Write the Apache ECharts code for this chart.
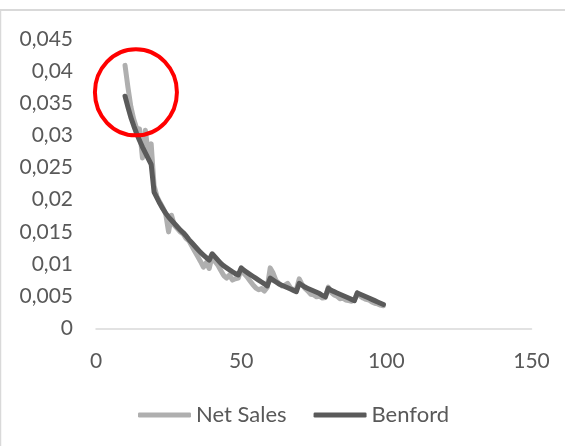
<!DOCTYPE html>
<html>
<head>
<meta charset="utf-8">
<script src="https://cdn.jsdelivr.net/npm/echarts@6/dist/echarts.min.js"></script>
<style>
html,body{margin:0;padding:0;background:#fff;}
#chart{width:565px;height:446px;}
</style>
</head>
<body>
<div id="chart"></div>
<script>
// First-two-digit categories (x values)
const digits = [10,11,12,13,14,15,16,17,18,19,
  20,21,22,23,24,25,26,27,28,29,
  30,31,32,33,34,35,36,37,38,39,
  40,41,42,43,44,45,46,47,48,49,
  50,51,52,53,54,55,56,57,58,59,
  60,61,62,63,64,65,66,67,68,69,
  70,71,72,73,74,75,76,77,78,79,
  80,81,82,83,84,85,86,87,88,89,
  90,91,92,93,94,95,96,97,98,99];

const netSales = [0.0409,0.0375,0.0345,0.0325,0.0311,0.0310,0.0265,0.0308,0.0272,0.0287,
  0.0222,0.0205,0.0196,0.0188,0.0178,0.0150,0.0176,0.0160,0.0155,0.0150,
  0.0147,0.0140,0.0136,0.0128,0.0120,0.0112,0.0104,0.0095,0.0102,0.0093,
  0.0112,0.0104,0.0098,0.0090,0.0082,0.0078,0.0083,0.0075,0.0077,0.0078,
  0.0092,0.0085,0.0080,0.0074,0.0068,0.0063,0.0060,0.0062,0.0058,0.0064,
  0.0094,0.0086,0.0074,0.0070,0.0066,0.0067,0.0070,0.0063,0.0060,0.0060,
  0.0077,0.0068,0.0062,0.0058,0.0053,0.0052,0.0049,0.0050,0.0047,0.0048,
  0.0064,0.0056,0.0052,0.0050,0.0046,0.0047,0.0044,0.0043,0.0042,0.0044,
  0.0055,0.0050,0.0047,0.0045,0.0044,0.0041,0.0039,0.0038,0.0036,0.0035];

// Benford expected frequencies
const benford = [0.0361,0.0344,0.0328,0.0315,0.0303,0.0292,0.0282,0.0273,0.0264,0.0255,
  0.0212,0.0203,0.0194,0.0186,0.0179,0.0173,0.0168,0.0163,0.0158,0.0153,
  0.0149,0.0144,0.0138,0.0133,0.0128,0.0123,0.0118,0.0114,0.0110,0.0106,
  0.0116,0.0111,0.0106,0.0101,0.0097,0.0094,0.0091,0.0088,0.0085,0.0083,
  0.0094,0.0090,0.0087,0.0084,0.0081,0.0078,0.0075,0.0072,0.0069,0.0066,
  0.0078,0.0075,0.0072,0.0069,0.0067,0.0065,0.0063,0.0061,0.0059,0.0057,
  0.0070,0.0067,0.0064,0.0062,0.0060,0.0058,0.0056,0.0054,0.0051,0.0049,
  0.0062,0.0059,0.0057,0.0055,0.0053,0.0051,0.0049,0.0047,0.0045,0.0043,
  0.0055,0.0053,0.0051,0.0049,0.0047,0.0045,0.0043,0.0041,0.0039,0.0037];

// Red highlight circle centre in data units
const highlightCenter = [13.75, 0.0367];

const seriesNames = ['Net Sales', 'Benford'];

const FONT = 'Lato';
const TXT = '#595959';
const LIGHT = '#afafaf';
const DARK = '#5a5a5a';

const chart = echarts.init(document.getElementById('chart'), null, {renderer: 'canvas'});

function pairs(ys) { return digits.map((d, i) => [d, ys[i]]); }

const option = {
  animation: false,
  backgroundColor: '#ffffff',
  grid: {left: 96, right: 33.5, top: 39, bottom: 117.7, containLabel: false},
  xAxis: {
    type: 'value', min: 0, max: 150, interval: 50,
    axisLine: {show: true, lineStyle: {color: '#d9d9d9', width: 1.5}},
    axisTick: {show: false},
    splitLine: {show: false},
    axisLabel: {color: TXT, fontFamily: FONT, fontSize: 21, margin: 22}
  },
  yAxis: {
    type: 'value', min: 0, max: 0.045, interval: 0.005,
    axisLine: {show: false},
    axisTick: {show: false},
    splitLine: {show: false},
    axisLabel: {
      color: TXT, fontFamily: FONT, fontSize: 21, margin: 23,
      formatter: v => String(Number(v.toFixed(4))).replace('.', ',')
    }
  },
  legend: {
    data: [
      {name: seriesNames[0], icon: 'roundRect', itemStyle: {color: LIGHT}},
      {name: seriesNames[1], icon: 'roundRect', itemStyle: {color: DARK}}
    ],
    top: 399,
    left: 133,
    itemWidth: 53, itemHeight: 5, itemGap: 27,
    textStyle: {color: TXT, fontFamily: FONT, fontSize: 22}
  },
  series: [
    {
      name: seriesNames[0], type: 'line', data: pairs(netSales),
      showSymbol: false, symbol: 'none',
      lineStyle: {color: LIGHT, width: 5, cap: 'round', join: 'round'},
      itemStyle: {color: LIGHT}, z: 2
    },
    {
      name: seriesNames[1], type: 'line', data: pairs(benford),
      showSymbol: false, symbol: 'none',
      lineStyle: {color: DARK, width: 5, cap: 'round', join: 'round'},
      itemStyle: {color: DARK}, z: 3
    }
  ]
};
chart.setOption(option);

const c = chart.convertToPixel({gridIndex: 0}, highlightCenter);
chart.setOption({
  graphic: [
    {type: 'line', shape: {x1: 0, y1: 10, x2: 565, y2: 10}, style: {stroke: '#d9d9d9', lineWidth: 2}, silent: true},
    {type: 'line', shape: {x1: 0.5, y1: 10, x2: 0.5, y2: 446}, style: {stroke: '#d9d9d9', lineWidth: 1.5}, silent: true},
    {type: 'ellipse', shape: {cx: c[0], cy: c[1], rx: 41, ry: 43}, style: {fill: 'none', stroke: '#ff0000', lineWidth: 4}, z: 100, silent: true}
  ]
});
</script>
</body>
</html>
